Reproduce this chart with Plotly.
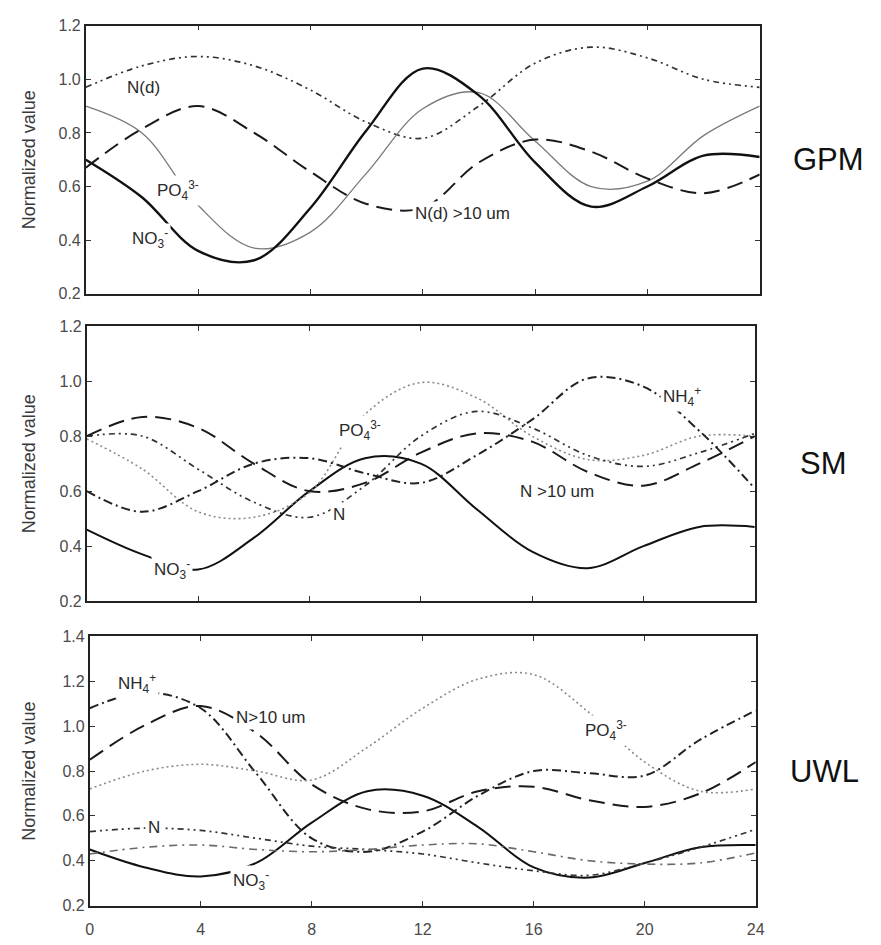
import plotly.graph_objects as go

# Time of day (h) at which each profile is sampled
HOURS = [0, 2, 4, 6, 8, 10, 12, 14, 16, 18, 20, 22, 24]

# GPM panel
GPM_ND = [0.97, 1.05, 1.085, 1.05, 0.96, 0.84, 0.78, 0.90, 1.06, 1.12, 1.08, 1.00, 0.97]
GPM_PO4 = [0.90, 0.80, 0.53, 0.37, 0.43, 0.65, 0.89, 0.95, 0.77, 0.60, 0.62, 0.79, 0.90]
GPM_NO3 = [0.70, 0.56, 0.36, 0.325, 0.52, 0.81, 1.04, 0.94, 0.69, 0.525, 0.60, 0.715, 0.71]
GPM_ND10 = [0.67, 0.815, 0.90, 0.80, 0.655, 0.535, 0.52, 0.69, 0.775, 0.73, 0.63, 0.575, 0.645]

# SM panel
SM_NO3 = [0.46, 0.37, 0.315, 0.43, 0.60, 0.72, 0.70, 0.535, 0.38, 0.32, 0.40, 0.47, 0.47]
SM_PO4 = [0.79, 0.68, 0.525, 0.505, 0.595, 0.88, 0.995, 0.94, 0.80, 0.715, 0.73, 0.80, 0.80]
SM_N = [0.80, 0.80, 0.68, 0.56, 0.505, 0.62, 0.80, 0.89, 0.83, 0.73, 0.69, 0.74, 0.81]
SM_NH4 = [0.60, 0.525, 0.60, 0.70, 0.72, 0.665, 0.63, 0.73, 0.86, 1.01, 0.98, 0.82, 0.61]
SM_N10 = [0.80, 0.87, 0.83, 0.70, 0.60, 0.63, 0.74, 0.81, 0.78, 0.67, 0.62, 0.70, 0.80]

# UWL panel
UWL_NO3 = [0.45, 0.37, 0.33, 0.39, 0.57, 0.71, 0.69, 0.55, 0.37, 0.325, 0.39, 0.46, 0.47]
UWL_NH4 = [1.08, 1.15, 1.08, 0.79, 0.50, 0.44, 0.53, 0.69, 0.80, 0.79, 0.78, 0.94, 1.07]
UWL_N10 = [0.85, 1.005, 1.09, 0.97, 0.74, 0.63, 0.62, 0.71, 0.73, 0.67, 0.64, 0.70, 0.84]
UWL_PO4 = [0.72, 0.80, 0.83, 0.80, 0.76, 0.905, 1.08, 1.21, 1.23, 1.06, 0.84, 0.71, 0.72]
UWL_N = [0.53, 0.545, 0.535, 0.50, 0.465, 0.45, 0.43, 0.39, 0.355, 0.335, 0.39, 0.46, 0.54]
UWL_OTHER = [0.43, 0.46, 0.47, 0.45, 0.44, 0.45, 0.47, 0.475, 0.44, 0.40, 0.385, 0.39, 0.435]

X_TICKS = [0, 4, 8, 12, 16, 20, 24]
PANEL_NAMES = ["GPM", "SM", "UWL"]
Y_RANGES = [[0.2, 1.2], [0.2, 1.2], [0.2, 1.4]]

W, H = 881, 945
FONT = "Liberation Sans, Arial, sans-serif"

# line styles
SOLID_BOLD = dict(color="#111111", width=2.4)
SOLID_THIN = dict(color="#7a7a7a", width=1.3)
SOLID = dict(color="#111111", width=2.0)
LONGDASH = dict(color="#1a1a1a", width=2.0, dash="16px,8px")
DOTTED = dict(color="#8a8a8a", width=1.6, dash="2px,3px")
DASHDOT = dict(color="#222222", width=2.0, dash="9px,4px,2px,4px")
DASHDOTDOT = dict(color="#333333", width=1.7, dash="6px,4px,2px,4px,2px,4px")
DASH_GREY = dict(color="#6a6a6a", width=1.6, dash="8px,5px,2px,5px")

panels = [
    [("N(d)", GPM_ND, DASHDOTDOT), ("PO4", GPM_PO4, SOLID_THIN),
     ("NO3", GPM_NO3, SOLID_BOLD), ("N(d) >10 um", GPM_ND10, LONGDASH)],
    [("NO3", SM_NO3, SOLID), ("PO4", SM_PO4, DOTTED), ("N", SM_N, DASHDOTDOT),
     ("NH4", SM_NH4, DASHDOT), ("N >10 um", SM_N10, LONGDASH)],
    [("NO3", UWL_NO3, SOLID), ("NH4", UWL_NH4, DASHDOT), ("N>10 um", UWL_N10, LONGDASH),
     ("PO4", UWL_PO4, DOTTED), ("N", UWL_N, DASHDOTDOT), ("other", UWL_OTHER, DASH_GREY)],
]

# plot-area boxes in pixels: (left, right, top, bottom)
BOXES = [(83, 767, 18, 291), (84, 762, 324, 604), (87, 763, 640, 914)]

# in-panel curve labels: (panel, x, y, text)
LABELS = [
    (0, 2.05, 0.97, "N(d)"),
    (0, 3.3, 0.585, "PO<sub>4</sub><sup>3-</sup>"),
    (0, 2.3, 0.405, "NO<sub>3</sub><sup>-</sup>"),
    (0, 13.4, 0.50, "N(d) >10 um"),
    (1, 9.8, 0.82, "PO<sub>4</sub><sup>3-</sup>"),
    (1, 9.06, 0.514, "N"),
    (1, 3.05, 0.314, "NO<sub>3</sub><sup>-</sup>"),
    (1, 21.4, 0.946, "NH<sub>4</sub><sup>+</sup>"),
    (1, 16.9, 0.60, "N >10 um"),
    (2, 1.7, 1.19, "NH<sub>4</sub><sup>+</sup>"),
    (2, 6.5, 1.04, "N>10 um"),
    (2, 2.3, 0.546, "N"),
    (2, 5.8, 0.31, "NO<sub>3</sub><sup>-</sup>"),
    (2, 18.6, 0.98, "PO<sub>4</sub><sup>3-</sup>"),
]

fig = go.Figure()
layout = dict(
    width=W, height=H, margin=dict(l=0, r=0, t=0, b=0),
    paper_bgcolor="white", plot_bgcolor="white", showlegend=False,
    font=dict(family=FONT, color="#333333"),
)
annotations = []

for i, (series, (l, r, t, b)) in enumerate(zip(panels, BOXES)):
    n = "" if i == 0 else str(i + 1)
    for name, vals, style in series:
        fig.add_trace(go.Scatter(
            x=HOURS, y=vals, name=name, mode="lines",
            line=dict(shape="spline", smoothing=1.0, **style),
            xaxis="x" + n, yaxis="y" + n, hoverinfo="x+y+name",
        ))
    axis_common = dict(
        showline=True, linewidth=1.6, linecolor="#222222", mirror="ticks",
        ticks="inside", ticklen=5, tickwidth=1.2, tickcolor="#333333",
        showgrid=False, zeroline=False,
        tickfont=dict(family=FONT, size=16, color="#4a4a4a"),
    )
    layout["xaxis" + n] = dict(
        axis_common, domain=[l / W, r / W], range=[0, 24],
        tickvals=X_TICKS, showticklabels=(i == 2), ticklabelstandoff=8,
        anchor="y" + n,
    )
    layout["yaxis" + n] = dict(
        axis_common, domain=[1 - b / H, 1 - t / H], range=Y_RANGES[i],
        dtick=0.2, tick0=0.2, tickformat=".1f", anchor="x" + n,
    )
    # y-axis title
    annotations.append(dict(
        xref="paper", yref="paper", x=25 / W, y=1 - (t + b) / 2 / H,
        text="Normalized value", textangle=-90, showarrow=False,
        font=dict(family=FONT, size=18, color="#3a3a3a"),
        xanchor="center", yanchor="middle",
    ))
    # panel name on the right
    annotations.append(dict(
        xref="paper", yref="paper", x=(r + 70) / W, y=1 - (t + b) / 2 / H,
        text=PANEL_NAMES[i], showarrow=False,
        font=dict(family=FONT, size=31, color="#111111"),
        xanchor="center", yanchor="middle",
    ))

for p, lx, ly, txt in LABELS:
    n = "" if p == 0 else str(p + 1)
    annotations.append(dict(
        xref="x" + n, yref="y" + n, x=lx, y=ly, text=txt, showarrow=False,
        font=dict(family=FONT, size=17, color="#2a2a2a"),
        bgcolor="white", borderpad=2, xanchor="center", yanchor="middle",
    ))

layout["annotations"] = annotations
fig.update_layout(**layout)
fig.write_html("out.html")
